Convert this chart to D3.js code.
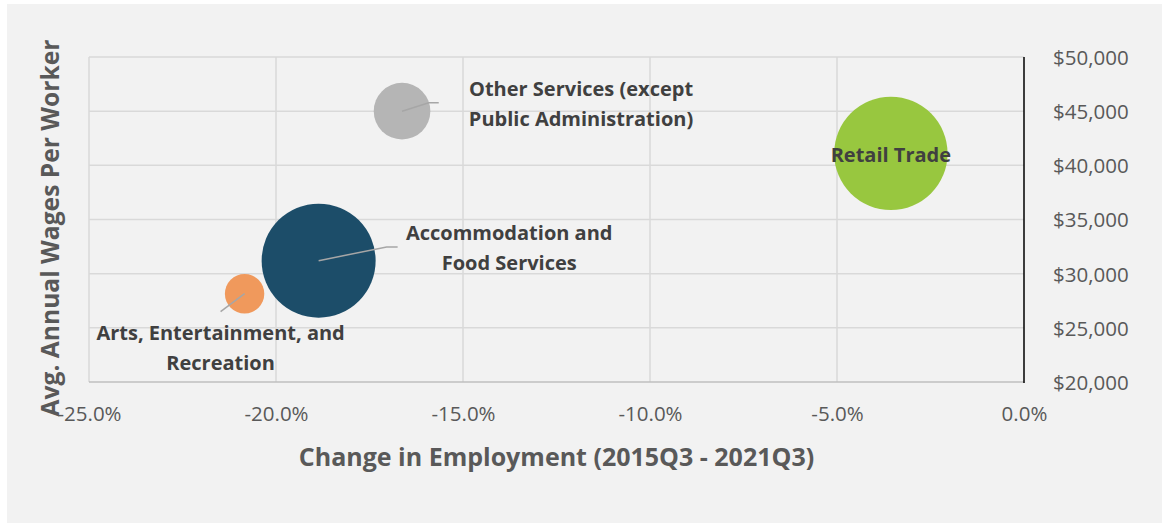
<!DOCTYPE html>
<html>
<head>
<meta charset="utf-8">
<script src="https://cdn.jsdelivr.net/npm/d3@7"></script>
<style>
  html, body { margin: 0; padding: 0; background: #ffffff; }
  svg { display: block; }
  text { font-family: "Open Sans", "DejaVu Sans", sans-serif; }
</style>
</head>
<body>
<svg id="chart" width="1162" height="523"></svg>
<script>
// Industries shown as bubbles
const industries = [
  "Other Services (except Public Administration)",
  "Accommodation and Food Services",
  "Arts, Entertainment, and Recreation",
  "Retail Trade"
];
// Change in employment, 2015Q3 - 2021Q3
const employmentChange = [-0.1663, -0.1886, -0.2084, -0.0356];
// Average annual wages per worker
const avgWages = [45000, 31200, 28150, 41100];
// Employment (bubble size)
const employment = [2477, 10050, 1201, 9940];
// Label text lines
const labelLines = [
  ["Other Services (except", "Public Administration)"],
  ["Accommodation and", "Food Services"],
  ["Arts, Entertainment, and", "Recreation"],
  ["Retail Trade"]
];
const colors = ["#b5b5b5", "#1c4d69", "#f0995c", "#98c73f"];

// Axis ticks
const xTicks = [-0.25, -0.20, -0.15, -0.10, -0.05, 0];
const yTicks = [20000, 25000, 30000, 35000, 40000, 45000, 50000];

// Label placement relative to each bubble centre (layout only)
const labelLayout = [
  { dx: 179, dy: [-14.7, 15.3], leader: [[26.7, -8.4], [36.7, -8.4]] },
  { dx: 190.6, dy: [-20.7, 9.3], leader: [[68, -13.7], [79, -13.7]] },
  { dx: -24, dy: [46.5, 76.5], leader: [[-24, 18]] },
  { dx: 0, dy: [8.4], leader: null }
];

const svg = d3.select("#chart");
const W = 1162, H = 523;

// background panel
svg.append("rect").attr("x", 0).attr("y", 0).attr("width", W).attr("height", H).attr("fill", "#ffffff");
svg.append("rect").attr("x", 7).attr("y", 4).attr("width", W - 7).attr("height", H - 4).attr("fill", "#f2f2f2");

const plot = { left: 89, right: 1024, top: 57, bottom: 382 };

const x = d3.scaleLinear().domain([-0.25, 0]).range([plot.left, plot.right]);
const y = d3.scaleLinear().domain([20000, 50000]).range([plot.bottom, plot.top]);
const r = d3.scaleSqrt().domain([0, d3.max(employment)]).range([0, 57]);

// gridlines
const grid = svg.append("g");
grid.selectAll("line.v").data(xTicks.slice(0, -1)).join("line")
  .attr("x1", d => x(d)).attr("x2", d => x(d))
  .attr("y1", plot.top).attr("y2", plot.bottom)
  .attr("stroke", "#d9d9d9").attr("stroke-width", 1.5);
grid.selectAll("line.h").data(yTicks.slice(1)).join("line")
  .attr("x1", plot.left).attr("x2", plot.right)
  .attr("y1", d => y(d)).attr("y2", d => y(d))
  .attr("stroke", "#d9d9d9").attr("stroke-width", 1.5);

// bottom axis line
svg.append("line")
  .attr("x1", plot.left).attr("x2", plot.right)
  .attr("y1", plot.bottom).attr("y2", plot.bottom)
  .attr("stroke", "#bfbfbf").attr("stroke-width", 1.5);

// x axis tick labels (plain hyphen for negatives)
const pct = d3.format(".1%");
const xAxis = d3.axisBottom(x).tickValues(xTicks)
  .tickFormat(d => pct(d).replace("\u2212", "-")).tickSize(0).tickPadding(0);
const gx = svg.append("g").attr("transform", `translate(0,${plot.bottom})`).call(xAxis);
gx.select(".domain").remove();
gx.selectAll("text")
  .attr("y", 39).attr("dy", null)
  .attr("fill", "#595959").attr("font-size", 20.5)
  .style("font-family", "'Open Sans', sans-serif");

// vertical axis sits at 0.0%, labels on the right
const yAxis = d3.axisRight(y).tickValues(yTicks).tickFormat(d => "$" + d3.format(",")(d)).tickSize(0).tickPadding(0);
const gy = svg.append("g").attr("transform", `translate(${plot.right},0)`).call(yAxis);
gy.select(".domain").remove();
gy.selectAll("text")
  .attr("x", 29).attr("dy", "0.36em")
  .attr("fill", "#595959").attr("font-size", 20.5)
  .style("font-family", "'Open Sans', sans-serif");
svg.append("line")
  .attr("x1", plot.right).attr("x2", plot.right)
  .attr("y1", plot.top).attr("y2", plot.bottom + 1)
  .attr("stroke", "#000000").attr("stroke-width", 1.5);

// axis titles
svg.append("text")
  .attr("x", (plot.left + plot.right) / 2).attr("y", 466)
  .attr("text-anchor", "middle")
  .attr("font-size", 25).attr("font-weight", 700).attr("fill", "#595959")
  .text("Change in Employment (2015Q3 - 2021Q3)");
svg.append("text")
  .attr("transform", `translate(59,228) rotate(-90)`)
  .attr("text-anchor", "middle")
  .attr("font-size", 24.6).attr("font-weight", 700).attr("fill", "#595959")
  .text("Avg. Annual Wages Per Worker");

// bubbles
const points = industries.map((name, i) => ({
  name, cx: x(employmentChange[i]), cy: y(avgWages[i]), rr: r(employment[i]),
  color: colors[i], lines: labelLines[i], layout: labelLayout[i]
}));

svg.append("g").selectAll("circle").data(points).join("circle")
  .attr("cx", d => d.cx).attr("cy", d => d.cy).attr("r", d => d.rr)
  .attr("fill", d => d.color);

// leader lines
svg.append("g").selectAll("polyline").data(points.filter(d => d.layout.leader)).join("polyline")
  .attr("points", d => [[d.cx, d.cy]].concat(d.layout.leader.map(p => [d.cx + p[0], d.cy + p[1]])).map(p => p.join(",")).join(" "))
  .attr("fill", "none").attr("stroke", "#a6a6a6").attr("stroke-width", 1.5);

// data labels
const lbl = svg.append("g").selectAll("text").data(points).join("text")
  .attr("text-anchor", "middle")
  .attr("font-size", 20).attr("font-weight", 700).attr("fill", "#404040");
lbl.selectAll("tspan").data(d => d.lines.map((t, k) => ({ t, x: d.cx + d.layout.dx, y: d.cy + d.layout.dy[k] })))
  .join("tspan")
  .attr("x", d => d.x).attr("y", d => d.y).text(d => d.t);
</script>
</body>
</html>
